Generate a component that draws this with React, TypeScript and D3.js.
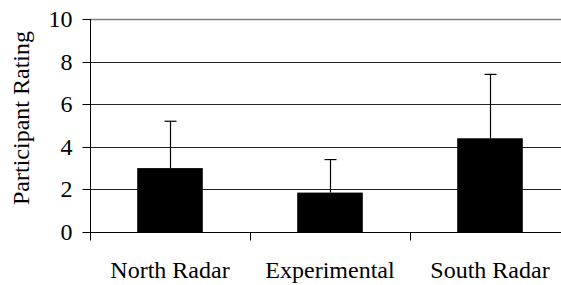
import React from "react";
import * as d3 from "d3";

// values
const categories = ["North Radar", "Experimental", "South Radar"];
const means = [3.0, 1.85, 4.4];
const errors = [2.2, 1.55, 3.0];
const yTicks = [0, 2, 4, 6, 8, 10];

const W = 561, H = 285;
const margin = { top: 19, left: 90, bottom: 53 };
const plotRight = 570; // plot runs off the right edge like the original
const FONT = { fontFamily: '"Liberation Serif"', fontSize: 24 };

export default function App() {
  const x = d3.scaleBand<string>().domain(categories).range([margin.left, plotRight]).padding(0);
  const y = d3.scaleLinear().domain([0, 10]).range([H - margin.bottom, margin.top]);
  const barW = x.bandwidth() * 0.41;
  const px = (v: number) => Math.round(v) + 0.5;
  const y0 = px(y(0));
  const ax = margin.left + 0.5;

  return (
    <svg width={W} height={H} style={{ position: "absolute", left: 0, top: 0, background: "#fff" }}>
      {/* gridlines */}
      {yTicks.filter(t => t > 0).map(t => (
        <line key={t} x1={margin.left} x2={plotRight} y1={px(y(t))} y2={px(y(t))}
          stroke={t === 10 ? "#808080" : "#222"} strokeWidth={t === 10 ? 1.6 : 1} />
      ))}

      {/* bars */}
      {categories.map((c, i) => (
        <rect key={c} x={x(c)! + x.bandwidth() / 2 - barW / 2} width={barW}
          y={y(means[i])} height={y(0) - y(means[i])} fill="#000" />
      ))}

      {/* upper error bars */}
      <g stroke="#000" strokeWidth={1.2}>
        {categories.map((c, i) => {
          const cx = px(x(c)! + x.bandwidth() / 2);
          const top = y(means[i] + errors[i]);
          return (
            <g key={c}>
              <line x1={cx} x2={cx} y1={y(means[i])} y2={top} />
              <line x1={cx - 6} x2={cx + 6} y1={top} y2={top} />
            </g>
          );
        })}
      </g>

      {/* y axis */}
      <line x1={ax} x2={ax} y1={margin.top} y2={y0 + 8} stroke="#000" />
      {yTicks.map(t => (
        <g key={t}>
          <line x1={ax - 8} x2={ax} y1={px(y(t))} y2={px(y(t))} stroke="#000" />
          <text x={ax - 18} y={y(t)} dy="0.33em" textAnchor="end" style={FONT}>{t}</text>
        </g>
      ))}

      {/* x axis */}
      <line x1={margin.left} x2={plotRight} y1={y0} y2={y0} stroke="#000" />
      {categories.slice(1).map(c => (
        <line key={c} x1={px(x(c)!)} x2={px(x(c)!)} y1={y0} y2={y0 + 8} stroke="#000" />
      ))}
      {categories.map(c => (
        <text key={c} x={x(c)! + x.bandwidth() / 2} y={278} textAnchor="middle" style={FONT}>{c}</text>
      ))}

      <text transform="rotate(-90)" x={-118} y={29} textAnchor="middle" style={FONT}>
        Participant Rating
      </text>
    </svg>
  );
}
